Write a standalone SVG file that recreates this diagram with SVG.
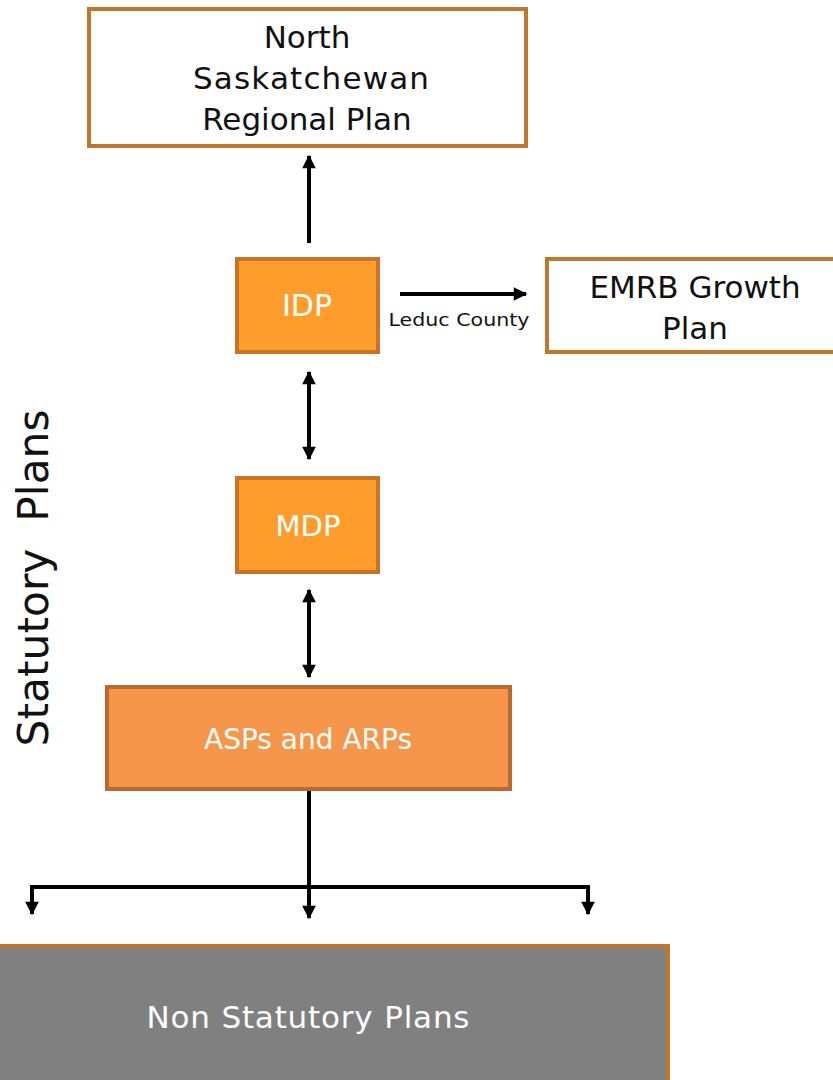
<svg xmlns="http://www.w3.org/2000/svg" width="833" height="1080" viewBox="0 0 833 1080">
<style>
.box{fill:#fff;stroke:#C0772A;stroke-width:4}
.org{fill:#FE9D2B;stroke:#C77426;stroke-width:4}
.asp{fill:#F5964A;stroke:#BA6A30;stroke-width:4}
.gray{fill:#808080;stroke:#C0772A;stroke-width:4}
.t{font-family:"DejaVu Sans",sans-serif;text-anchor:middle}
.dk{fill:#111}
.wt{fill:#fff}
.ln{stroke:#000;stroke-width:4;fill:none}
</style>
<defs>
<marker id="ah" viewBox="0 0 10 10" refX="9" refY="5" markerWidth="3.6" markerHeight="3.4" orient="auto-start-reverse" markerUnits="strokeWidth">
<path d="M0,0 L10,5 L0,10 Z" fill="#000"/>
</marker>
</defs>
<rect width="833" height="1080" fill="#fff"/>
<g id="connectors">
<line class="ln" x1="309" y1="243" x2="309" y2="156" marker-end="url(#ah)"/>
<line class="ln" x1="400" y1="294" x2="526" y2="294" marker-end="url(#ah)"/>
<line class="ln" x1="309" y1="372" x2="309" y2="459" marker-start="url(#ah)" marker-end="url(#ah)"/>
<line class="ln" x1="309" y1="590" x2="309" y2="677" marker-start="url(#ah)" marker-end="url(#ah)"/>
<line class="ln" x1="309" y1="790" x2="309" y2="918" marker-end="url(#ah)"/>
<polyline class="ln" points="32,914 32,887 588,887 588,914" marker-start="url(#ah)" marker-end="url(#ah)"/>
<text class="t dk" x="459" y="326" font-size="18" textLength="141" lengthAdjust="spacingAndGlyphs">Leduc County</text>
</g>
<g id="north">
<rect class="box" x="89" y="9" width="437" height="137"/>
<text class="t dk" x="307" y="48" font-size="31">North</text>
<text class="t dk" x="311" y="89" font-size="31" textLength="236">Saskatchewan</text>
<text class="t dk" x="307" y="130" font-size="31">Regional Plan</text>
</g>
<g id="idp">
<rect class="org" x="237" y="259" width="141" height="93"/>
<text class="t wt" x="307" y="316" font-size="30">IDP</text>
</g>
<g id="emrb">
<rect class="box" x="547" y="259" width="290" height="93"/>
<text class="t dk" x="695" y="298" font-size="31">EMRB Growth</text>
<text class="t dk" x="695" y="339" font-size="31">Plan</text>
</g>
<g id="mdp">
<rect class="org" x="237" y="478" width="141" height="94"/>
<text class="t wt" x="308" y="536" font-size="29">MDP</text>
</g>
<g id="asp">
<rect class="asp" x="107" y="687" width="403" height="102"/>
<text class="t wt" x="308" y="749" font-size="28">ASPs and ARPs</text>
</g>
<g id="nonstat">
<rect class="gray" x="-4" y="946" width="672" height="140"/>
<text class="t wt" x="308" y="1028" font-size="31" textLength="323">Non Statutory Plans</text>
</g>
<g id="label">
<text class="t" fill="#111" font-size="43" transform="translate(48,578) rotate(-90)" textLength="337" lengthAdjust="spacingAndGlyphs" xml:space="preserve">Statutory  Plans</text>
</g>
</svg>
